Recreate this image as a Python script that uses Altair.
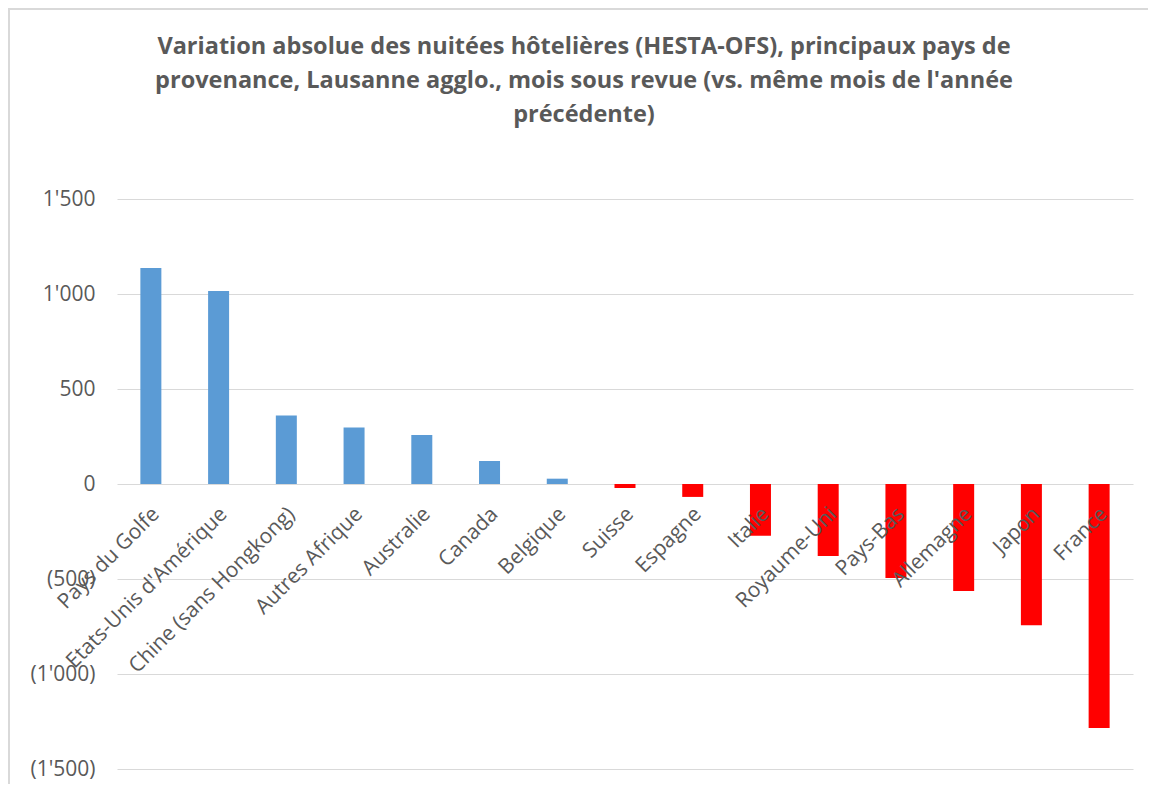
import altair as alt
import pandas as pd

countries = ["Pays du Golfe", "Etats-Unis d'Amérique", "Chine (sans Hongkong)",
             "Autres Afrique", "Australie", "Canada", "Belgique", "Suisse",
             "Espagne", "Italie", "Royaume-Uni", "Pays-Bas", "Allemagne",
             "Japon", "France"]
values = [1137, 1016, 360, 298, 258, 121, 28, -21, -68, -272, -379, -495,
          -563, -744, -1284]
y_ticks = [-1500, -1000, -500, 0, 500, 1000, 1500]
title_lines = ["Variation absolue des nuitées hôtelières (HESTA-OFS), principaux pays de",
               "provenance, Lausanne agglo., mois sous revue (vs. même mois de l'année",
               "précédente)"]

df = pd.DataFrame({"pays": countries, "valeur": values, "zero": [0] * len(countries)})

FONT = "Open Sans"
GRAY = "#595959"

x_scale = alt.Scale(paddingInner=0.69, paddingOuter=0.345)
y_scale = alt.Scale(domain=[-1500, 1500], nice=False)

label_expr = ("datum.value < 0 ? '(' + replace(format(-datum.value, ','), ',', \"'\") + ')' "
              ": replace(format(datum.value, ','), ',', \"'\")")

base = alt.Chart(df)

bars = base.mark_bar().encode(
    x=alt.X("pays:N", sort=None, scale=x_scale, axis=None),
    y=alt.Y("valeur:Q", scale=y_scale, title=None,
            axis=alt.Axis(values=y_ticks, labelExpr=label_expr, grid=True,
                          gridColor="#d9d9d9", gridWidth=1, domain=False,
                          ticks=False, labelPadding=22, labelFont=FONT,
                          labelFontSize=21, labelColor=GRAY)),
    color=alt.condition(alt.datum.valeur > 0, alt.value("#5B9BD5"), alt.value("#FF0000")),
)

labels = base.mark_text(angle=315, align="right", baseline="top", dx=-15.5, dy=12,
                        font=FONT, fontSize=21, color=GRAY).encode(
    x=alt.X("pays:N", sort=None, scale=x_scale, axis=None),
    y=alt.Y("zero:Q", scale=y_scale),
    text="pays:N",
)

frame = alt.Chart(pd.DataFrame({"k": [0]})).mark_rect(
    fill="transparent", stroke="#d9d9d9", strokeWidth=2).encode(
    x=alt.value(-108), x2=alt.value(1100), y=alt.value(-190), y2=alt.value(700))

chart = alt.layer(frame, bars, labels).properties(
    width=1016, height=570,
    autosize=alt.AutoSizeParams(type="none"),
    padding={"left": 109, "top": 191, "right": 15, "bottom": 15},
    title=alt.TitleParams(text=title_lines, anchor="middle", frame="group",
                          dx=-41, offset=-118, font=FONT, fontSize=23.5,
                          fontWeight="bold", color=GRAY, lineHeight=34),
).configure(background="white", view=alt.ViewConfig(stroke=None))

chart.save("out.html", embed_options={"renderer": "svg", "actions": False})
